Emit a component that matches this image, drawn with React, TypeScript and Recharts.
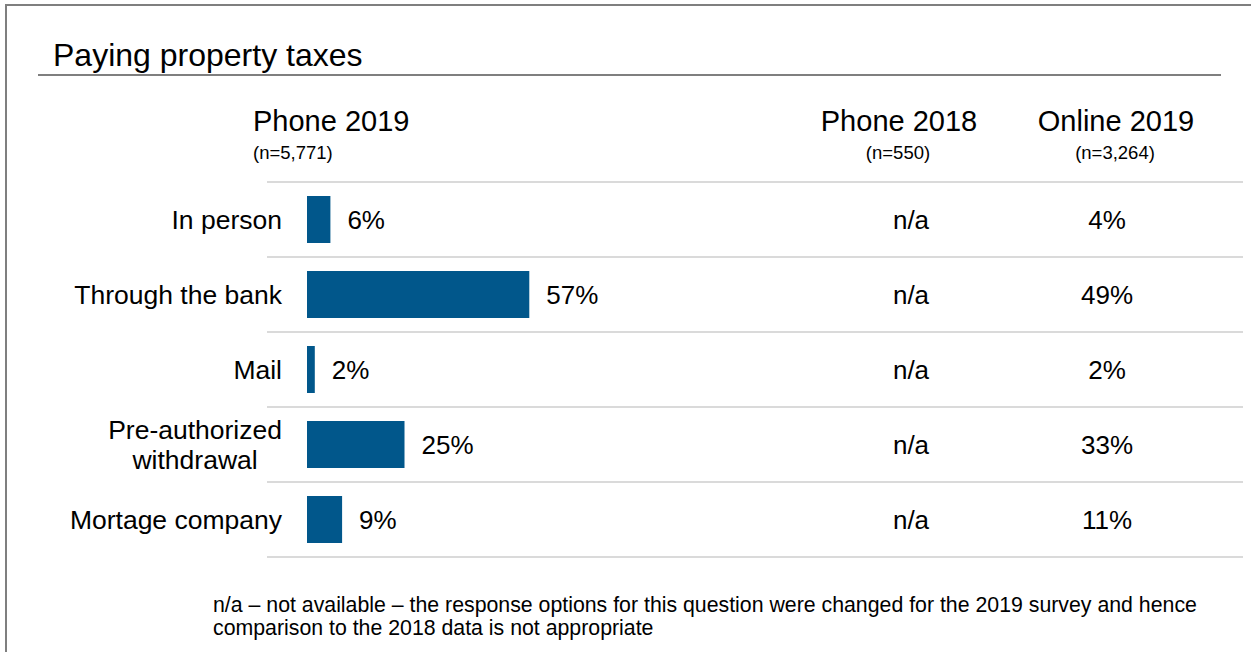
import { BarChart, Bar, XAxis, YAxis, LabelList } from 'recharts';

// Paying property taxes – channel used (Phone 2019 bars, other waves as text columns)

const categories = ['In person', 'Through the bank', 'Mail', 'Pre-authorized\nwithdrawal', 'Mortage company'];
const phone2019 = [6, 57, 2, 25, 9];
const phone2018 = ['n/a', 'n/a', 'n/a', 'n/a', 'n/a'];
const online2019 = ['4%', '49%', '2%', '33%', '11%'];

const columnHeaders = ['Phone 2019', 'Phone 2018', 'Online 2019'];
const columnNs = ['(n=5,771)', '(n=550)', '(n=3,264)'];

const FONT = '"Liberation Sans", Arial, sans-serif';
const BAR_COLOR = '#01578b';
const RULE_COLOR = '#dadada';
const LABEL_SIZE = 26.5;

const W = 1251;
const H = 652;
const TOP = 182;
const BOTTOM = 95;
const BAND = (H - TOP - BOTTOM) / categories.length;

const data = categories.map((name, i) => ({
  name,
  phone2019: phone2019[i],
  phone2018: phone2018[i],
  online2019: online2019[i],
}));

let ctx: CanvasRenderingContext2D | null = null;
function textWidth(s: string, size: number) {
  if (!ctx) ctx = document.createElement('canvas').getContext('2d');
  if (!ctx) return s.length * size * 0.5;
  ctx.font = `${size}px "Liberation Sans", Arial`;
  return ctx.measureText(s).width;
}

// Row tick: category label, separator rules and the two text columns
const RowTick = ({ y, payload, index }: any) => {
  const lines = String(payload.value).split('\n');
  const row = data[index];
  const widths = lines.map((l) => textWidth(l, LABEL_SIZE));
  const maxW = Math.max(...widths);
  const labelRight = 282;
  return (
    <g>
      {index === 0 && (
        <line x1={267} x2={1243} y1={y - BAND / 2} y2={y - BAND / 2} stroke={RULE_COLOR} strokeWidth={2} />
      )}
      <line x1={267} x2={1243} y1={y + BAND / 2} y2={y + BAND / 2} stroke={RULE_COLOR} strokeWidth={2} />
      {lines.length === 1 ? (
        <text x={labelRight} y={y} dy="0.355em" textAnchor="end" fontSize={LABEL_SIZE} fill="#000" fontFamily={FONT}>
          {lines[0]}
        </text>
      ) : (
        lines.map((l, k) => (
          <text
            key={k}
            x={labelRight - maxW / 2}
            y={y + (k - (lines.length - 1) / 2) * 30}
            dy="0.355em"
            textAnchor="middle"
            fontSize={LABEL_SIZE}
            fill="#000"
            fontFamily={FONT}
          >
            {l}
          </text>
        ))
      )}
      <text x={911} y={y} dy="0.355em" textAnchor="middle" fontSize={26} fill="#000" fontFamily={FONT}>
        {row?.phone2018}
      </text>
      <text x={1107} y={y} dy="0.355em" textAnchor="middle" fontSize={26} fill="#000" fontFamily={FONT}>
        {row?.online2019}
      </text>
    </g>
  );
};

export default function App() {
  return (
    <div style={{ position: 'absolute', left: 0, top: 0, width: W, height: H, background: '#fff', fontFamily: FONT }}>
      <svg width={W} height={H} style={{ position: 'absolute', left: 0, top: 0 }}>
        {/* frame */}
        <rect x={5} y={4} width={W} height={2} fill="#7f7f7f" />
        <rect x={5} y={4} width={2} height={H} fill="#7f7f7f" />
        {/* title */}
        <text x={53} y={66} fontSize={32} fill="#000" fontFamily={FONT}>
          Paying property taxes
        </text>
        <rect x={38} y={74} width={1221 - 38} height={2} fill="#7f7f7f" />
        {/* column headers */}
        <text x={253} y={131} fontSize={29} fill="#000" fontFamily={FONT}>{columnHeaders[0]}</text>
        <text x={253} y={159} fontSize={18.5} fill="#000" fontFamily={FONT}>{columnNs[0]}</text>
        <text x={899} y={131} fontSize={29} textAnchor="middle" fill="#000" fontFamily={FONT}>{columnHeaders[1]}</text>
        <text x={898} y={159} fontSize={18.5} textAnchor="middle" fill="#000" fontFamily={FONT}>{columnNs[1]}</text>
        <text x={1116} y={131} fontSize={29} textAnchor="middle" fill="#000" fontFamily={FONT}>{columnHeaders[2]}</text>
        <text x={1115} y={159} fontSize={18.5} textAnchor="middle" fill="#000" fontFamily={FONT}>{columnNs[2]}</text>
        {/* footnote */}
        <text x={213} y={612} fontSize={21.3} fill="#000" fontFamily={FONT}>
          n/a – not available – the response options for this question were changed for the 2019 survey and hence
        </text>
        <text x={213} y={635} fontSize={21.3} fill="#000" fontFamily={FONT}>
          comparison to the 2018 data is not appropriate
        </text>
      </svg>
      <div style={{ position: 'absolute', left: 0, top: 0 }}>
        <BarChart
          width={W}
          height={H}
          data={data}
          layout="vertical"
          margin={{ top: TOP, bottom: BOTTOM, left: 0, right: 554 }}
          barCategoryGap={14}
        >
          <XAxis type="number" domain={[0, 100]} hide />
          <YAxis
            type="category"
            dataKey="name"
            width={307}
            axisLine={false}
            tickLine={false}
            interval={0}
            tick={<RowTick />}
          />
          <Bar dataKey="phone2019" fill={BAR_COLOR} isAnimationActive={false}>
            <LabelList
              dataKey="phone2019"
              position="right"
              offset={17}
              fontSize={26}
              fill="#000"
              fontFamily={FONT}
              formatter={(v: any) => `${v}%`}
            />
          </Bar>
        </BarChart>
      </div>
    </div>
  );
}
